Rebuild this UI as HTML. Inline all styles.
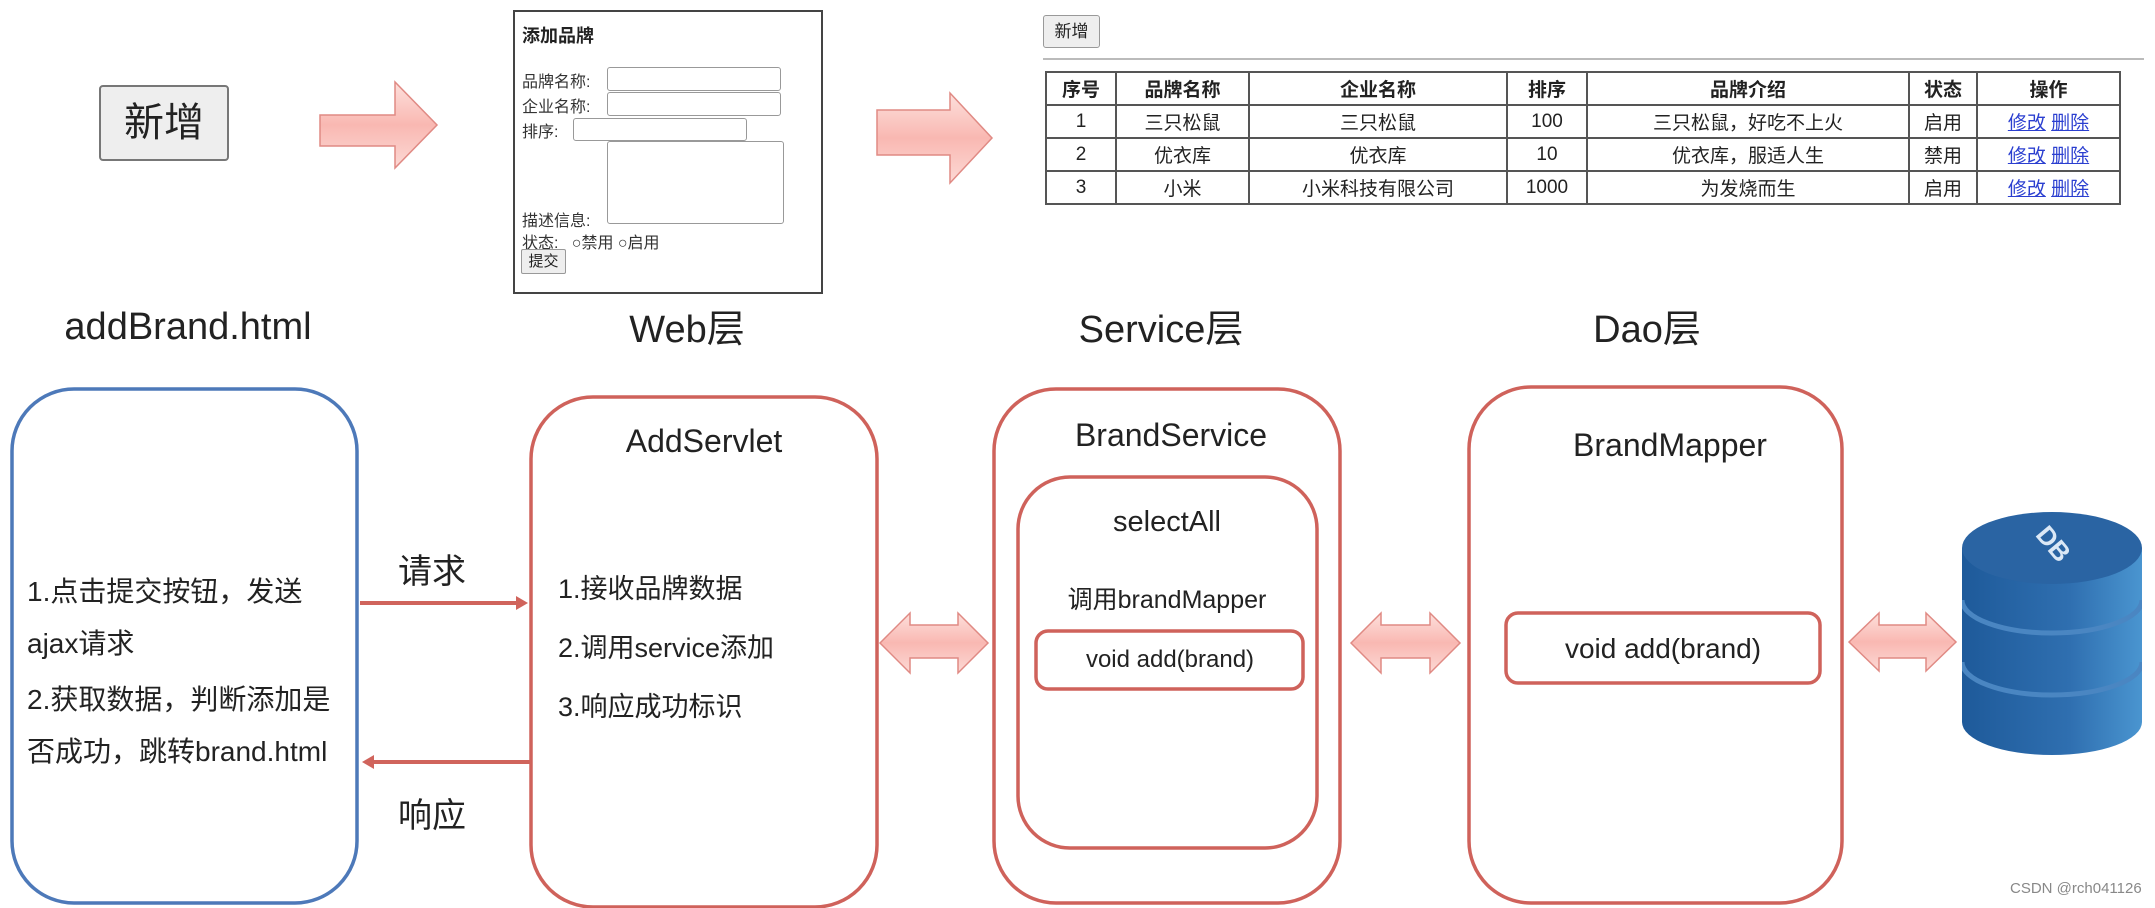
<!DOCTYPE html>
<html><head><meta charset="utf-8">
<style>
html,body{margin:0;padding:0;background:#fff;}
body{width:2155px;height:908px;position:relative;overflow:hidden;font-family:"Liberation Sans","Noto Sans CJK SC",sans-serif;color:#222;}
.a{position:absolute;white-space:nowrap;}
.c{transform:translateX(-50%);}
table{border-collapse:collapse;position:absolute;left:1045px;top:71px;width:1076px;font-size:19px;}
td,th{border:2px solid #555;text-align:center;height:31px;padding:0;}
th{font-weight:bold;}
td a{color:#2b3fd0;text-decoration:underline;}
.inp{position:absolute;border:1.5px solid #999;border-radius:3px;background:#fff;}
.fl{position:absolute;font-size:16px;color:#333;}
</style></head><body>
<svg width="2155" height="908" style="position:absolute;left:0;top:0">
<defs>
<linearGradient id="pk" x1="0" y1="0" x2="0" y2="1"><stop offset="0" stop-color="#fde0dc"/><stop offset="0.5" stop-color="#f9b8b2"/><stop offset="1" stop-color="#fcd9d5"/></linearGradient>
<linearGradient id="db" x1="0" y1="0" x2="1" y2="0"><stop offset="0" stop-color="#1e5a9a"/><stop offset="0.6" stop-color="#2f6fb0"/><stop offset="1" stop-color="#4a95d0"/></linearGradient>
<clipPath id="dbc"><path d="M1962,548 L1962,722 A90,33 0 0 0 2142,722 L2142,548 Z"/></clipPath>
</defs>
<polygon points="320,115 395,115 395,82 437,125 395,168 395,146 320,146" fill="url(#pk)" stroke="#e08a84" stroke-width="1.5"/>
<polygon points="877,110 950,110 950,93 992,138 950,183 950,155 877,155" fill="url(#pk)" stroke="#e08a84" stroke-width="1.5"/>
<rect x="12" y="389" width="345" height="514" rx="62" fill="none" stroke="#4d79b9" stroke-width="3.5"/>
<rect x="531" y="397" width="346" height="510" rx="62" fill="none" stroke="#cf625b" stroke-width="3.5"/>
<rect x="994" y="389" width="346" height="514" rx="62" fill="none" stroke="#cf625b" stroke-width="3.5"/>
<rect x="1018" y="477" width="299" height="371" rx="52" fill="none" stroke="#cf625b" stroke-width="3.5"/>
<rect x="1036" y="631" width="267" height="58" rx="12" fill="none" stroke="#cf625b" stroke-width="3.5"/>
<rect x="1469" y="387" width="373" height="516" rx="62" fill="none" stroke="#cf625b" stroke-width="3.5"/>
<rect x="1506" y="613" width="314" height="70" rx="12" fill="none" stroke="#cf625b" stroke-width="3.5"/>
<line x1="360" y1="603" x2="520" y2="603" stroke="#d0645c" stroke-width="4"/>
<polygon points="516,596 528,603 516,610" fill="#d0645c"/>
<line x1="372" y1="762" x2="531" y2="762" stroke="#d0645c" stroke-width="4"/>
<polygon points="374,755 362,762 374,769" fill="#d0645c"/>
<polygon points="880,643 910,613 910,625 958,625 958,613 988,643 958,673 958,658 910,658 910,673" fill="url(#pk)" stroke="#e08a84" stroke-width="1.5"/>
<polygon points="1351,643 1381,613 1381,625 1430,625 1430,613 1460,643 1430,673 1430,658 1381,658 1381,673" fill="url(#pk)" stroke="#e08a84" stroke-width="1.5"/>
<polygon points="1849,642 1879,613 1879,625 1926,625 1926,613 1956,642 1926,671 1926,658 1879,658 1879,671" fill="url(#pk)" stroke="#e08a84" stroke-width="1.5"/>
<path d="M1962,548 L1962,722 A90,33 0 0 0 2142,722 L2142,548 Z" fill="url(#db)"/>
<g clip-path="url(#dbc)">
<path d="M1962,600 A90,33 0 0 0 2142,600" fill="none" stroke="#4a86c2" stroke-width="5"/>
<path d="M1962,662 A90,33 0 0 0 2142,662" fill="none" stroke="#4a86c2" stroke-width="5"/>
</g>
<ellipse cx="2052" cy="548" rx="90" ry="36" fill="#2a64a3"/>
<text x="2052" y="552" font-family="Liberation Sans" font-weight="bold" font-size="26" fill="#dbe8f6" text-anchor="middle" transform="rotate(50 2052 545)">DB</text>
<line x1="1043" y1="59" x2="2144" y2="59" stroke="#bbb" stroke-width="2"/>
</svg>

<div class="a" style="left:99px;top:85px;width:126px;height:72px;border:2px solid #777;border-radius:4px;background:#eee;font-size:40px;line-height:72px;text-align:center;">新增</div>

<div class="a" style="left:513px;top:10px;width:306px;height:280px;border:2px solid #444;"></div>
<div class="a" style="left:522px;top:22px;font-size:18px;font-weight:bold;">添加品牌</div>
<div class="fl" style="left:522px;top:68px;">品牌名称:</div>
<div class="inp" style="left:607px;top:67px;width:172px;height:22px;"></div>
<div class="fl" style="left:522px;top:93px;">企业名称:</div>
<div class="inp" style="left:607px;top:92px;width:172px;height:22px;"></div>
<div class="fl" style="left:522px;top:118px;">排序:</div>
<div class="inp" style="left:573px;top:118px;width:172px;height:21px;"></div>
<div class="inp" style="left:607px;top:141px;width:175px;height:81px;"></div>
<div class="fl" style="left:522px;top:207px;">描述信息:</div>
<div class="fl" style="left:522px;top:229px;">状态:&nbsp;&nbsp;&nbsp;○禁用 ○启用</div>
<div class="a" style="left:521px;top:249px;width:43px;height:23px;border:1.5px solid #999;border-radius:2px;background:#eee;font-size:15px;line-height:23px;text-align:center;">提交</div>

<div class="a" style="left:1043px;top:15px;width:55px;height:31px;border:1.5px solid #999;border-radius:3px;background:#eee;font-size:17px;line-height:31px;text-align:center;">新增</div>

<table>
<colgroup><col style="width:70px"><col style="width:133px"><col style="width:258px"><col style="width:80px"><col style="width:322px"><col style="width:68px"><col></colgroup>
<tr><th>序号</th><th>品牌名称</th><th>企业名称</th><th>排序</th><th>品牌介绍</th><th>状态</th><th>操作</th></tr>
<tr><td>1</td><td>三只松鼠</td><td>三只松鼠</td><td>100</td><td>三只松鼠，好吃不上火</td><td>启用</td><td><a>修改</a> <a>删除</a></td></tr>
<tr><td>2</td><td>优衣库</td><td>优衣库</td><td>10</td><td>优衣库，服适人生</td><td>禁用</td><td><a>修改</a> <a>删除</a></td></tr>
<tr><td>3</td><td>小米</td><td>小米科技有限公司</td><td>1000</td><td>为发烧而生</td><td>启用</td><td><a>修改</a> <a>删除</a></td></tr>
</table>

<div class="a c" style="left:188px;top:306px;font-size:38px;">addBrand.html</div>
<div class="a c" style="left:687px;top:298px;font-size:38px;">Web层</div>
<div class="a c" style="left:1161px;top:298px;font-size:38px;">Service层</div>
<div class="a c" style="left:1647px;top:298px;font-size:38px;">Dao层</div>

<div class="a" style="left:27px;top:566px;font-size:28px;line-height:52px;">1.点击提交按钮，发送<br>ajax请求</div>
<div class="a" style="left:27px;top:674px;font-size:28px;line-height:52px;">2.获取数据，判断添加是<br>否成功，跳转brand.html</div>
<div class="a" style="left:398px;top:544px;font-size:34px;">请求</div>
<div class="a" style="left:398px;top:788px;font-size:34px;">响应</div>

<div class="a c" style="left:704px;top:423px;font-size:32px;">AddServlet</div>
<div class="a" style="left:558px;top:560px;font-size:27px;line-height:59px;">1.接收品牌数据<br>2.调用service添加<br>3.响应成功标识</div>

<div class="a c" style="left:1171px;top:417px;font-size:32px;">BrandService</div>
<div class="a c" style="left:1167px;top:506px;font-size:29px;">selectAll</div>
<div class="a c" style="left:1167px;top:580px;font-size:25px;">调用brandMapper</div>
<div class="a c" style="left:1170px;top:646px;font-size:24px;">void add(brand)</div>

<div class="a c" style="left:1670px;top:427px;font-size:32px;">BrandMapper</div>
<div class="a c" style="left:1663px;top:633px;font-size:28px;">void add(brand)</div>

<div class="a" style="left:2010px;top:880px;font-size:15px;color:#888;">CSDN @rch041126</div>
</body></html>
